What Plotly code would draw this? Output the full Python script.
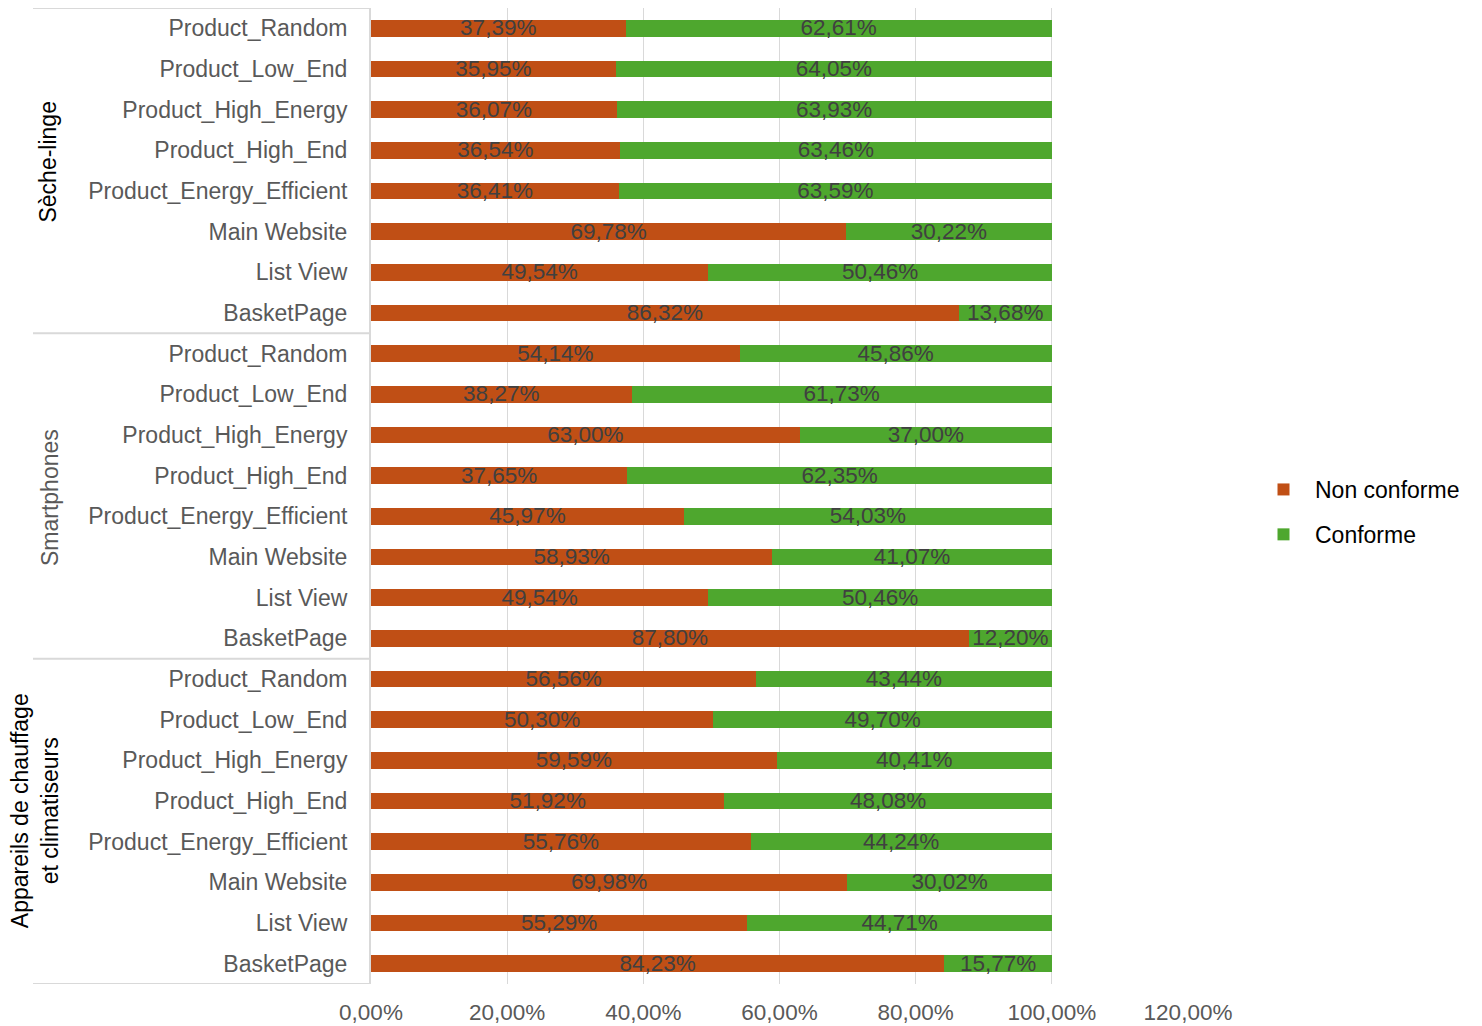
import plotly.graph_objects as go

groups = ["Sèche-linge", "Smartphones", "Appareils de chauffage<br>et climatiseurs"]
pages = ["Product_Random", "Product_Low_End", "Product_High_Energy", "Product_High_End",
         "Product_Energy_Efficient", "Main Website", "List View", "BasketPage"]

non_conforme_seche = [37.39, 35.95, 36.07, 36.54, 36.41, 69.78, 49.54, 86.32]
conforme_seche = [62.61, 64.05, 63.93, 63.46, 63.59, 30.22, 50.46, 13.68]
non_conforme_smart = [54.14, 38.27, 63.00, 37.65, 45.97, 58.93, 49.54, 87.80]
conforme_smart = [45.86, 61.73, 37.00, 62.35, 54.03, 41.07, 50.46, 12.20]
non_conforme_chauff = [56.56, 50.30, 59.59, 51.92, 55.76, 69.98, 55.29, 84.23]
conforme_chauff = [43.44, 49.70, 40.41, 48.08, 44.24, 30.02, 44.71, 15.77]

x_ticks = [0, 20, 40, 60, 80, 100, 120]
x_ticklabels = ["0,00%", "20,00%", "40,00%", "60,00%", "80,00%", "100,00%", "120,00%"]

ORANGE = "#C04F15"
GREEN = "#4EA72E"
GRID = "#D9D9D9"
SANS = "Liberation Sans, Arial, sans-serif"

nc = non_conforme_seche + non_conforme_smart + non_conforme_chauff
cf = conforme_seche + conforme_smart + conforme_chauff
labels = pages * 3
ypos = list(range(len(labels)))

def fmt(v):
    return f"{v:.2f}".replace(".", ",") + "%"

# page body has an 8px margin: figure is sized/offset accordingly
W, H = 1474, 1018
L, R, T, B = 363, 1474 - 1180, 0, 1018 - 976
PW = W - L - R

fig = go.Figure()
fig.add_trace(go.Bar(y=ypos, x=nc, orientation="h", name="Non conforme", legendgroup="nc",
                     marker=dict(color=ORANGE, line=dict(width=0)), width=0.41))
fig.add_trace(go.Bar(y=ypos, x=cf, orientation="h", name="Conforme", legendgroup="cf",
                     marker=dict(color=GREEN, line=dict(width=0)), width=0.41))

# data labels centred in each segment
tx = [a / 2 for a in nc] + [a + b / 2 for a, b in zip(nc, cf)]
ty = [y + 0.03 for y in ypos] * 2
tt = [fmt(v) for v in nc] + [fmt(v) for v in cf]
fig.add_trace(go.Scatter(x=tx, y=ty, mode="text", text=tt, showlegend=False,
                         textfont=dict(family=SANS, size=22.5, color="#404040"),
                         hoverinfo="skip"))

fig.update_layout(
    width=W, height=H,
    margin=dict(l=L, r=R, t=T, b=B, autoexpand=False),
    plot_bgcolor="white", paper_bgcolor="white",
    barmode="stack",
    showlegend=True,
    legend=dict(x=(1244 - L) / PW, y=1 - 504 / 976, xanchor="left", yanchor="middle",
                font=dict(family=SANS, size=23, color="#000000"),
                traceorder="grouped", tracegroupgap=12, itemwidth=53),
    xaxis=dict(range=[0, 120], tickvals=x_ticks, ticktext=x_ticklabels, automargin=False,
               showgrid=True, gridcolor=GRID, gridwidth=1, zeroline=False,
               showline=False, ticks="", ticklabelstandoff=12,
               tickfont=dict(family=SANS, size=22.5, color="#595959")),
    yaxis=dict(range=[23.5, -0.5], tickvals=ypos, ticktext=labels, automargin=False,
               showgrid=False, zeroline=False, showline=True, linecolor=GRID, linewidth=2,
               ticks="", ticklabelstandoff=17,
               tickfont=dict(family=SANS, size=23, color="#595959")),
)

# group separators
x0p = (25 - L) / PW
for yb in [-0.5, 7.5, 15.5, 23.5]:
    fig.add_shape(type="line", xref="paper", yref="y", x0=x0p, x1=0, y0=yb, y1=yb,
                  line=dict(color=GRID, width=2))

group_colors = ["#000000", "#595959", "#000000"]
group_x = [40, 42, 27]
group_y = [3.3, 11.55, 19.25]
for g, c, gx, gy in zip(groups, group_colors, group_x, group_y):
    fig.add_annotation(xref="paper", yref="y", x=(gx - L) / PW, xanchor="center",
                       y=gy, text=g, textangle=-90, showarrow=False,
                       font=dict(family=SANS, size=23, color=c), align="center")

fig.write_html("out.html")
